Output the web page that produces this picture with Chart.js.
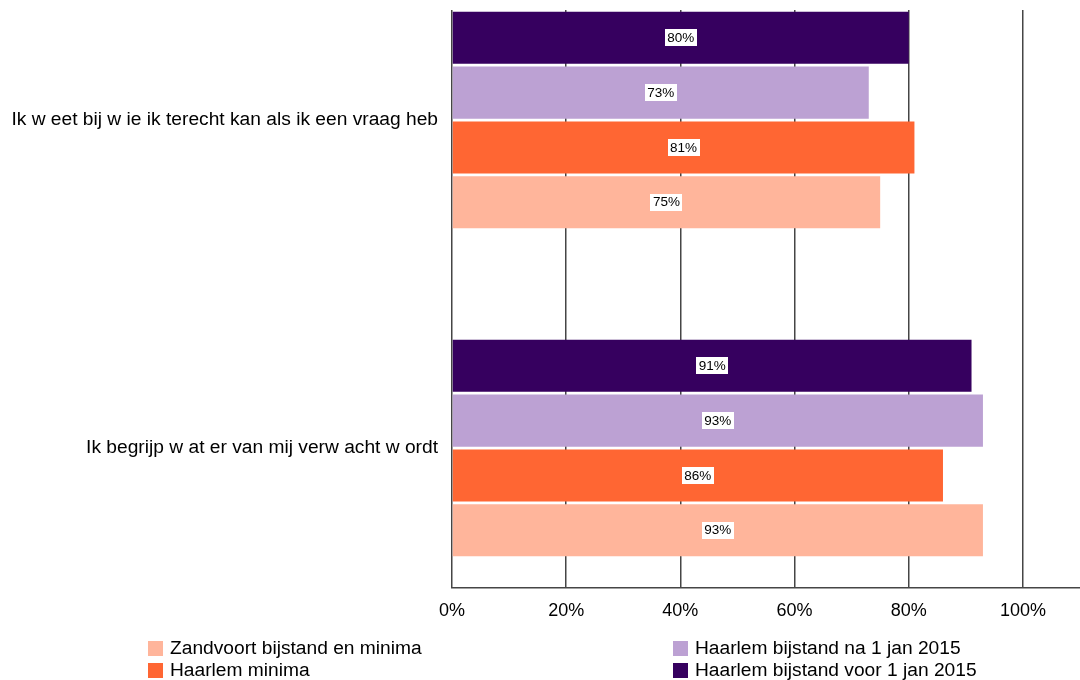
<!DOCTYPE html>
<html>
<head>
<meta charset="utf-8">
<script src="https://cdn.jsdelivr.net/npm/chart.js@4.4.0/dist/chart.umd.min.js"></script>
<style>
  html, body { margin: 0; padding: 0; background: #fff; }
  #wrap { width: 1080px; height: 680px; }
</style>
</head>
<body>
<div id="wrap"><canvas id="chart"></canvas></div>
<script>
const categories = [
  'Ik w eet bij w ie ik terecht kan als ik een vraag heb',
  'Ik begrijp w at er van mij verw acht w ordt'
];
const seriesNames = [
  'Haarlem bijstand voor 1 jan 2015',
  'Haarlem bijstand na 1 jan 2015',
  'Haarlem minima',
  'Zandvoort bijstand en minima'
];
const haarlemVoor = [80, 91];
const haarlemNa = [73, 93];
const haarlemMinima = [81, 86];
const zandvoort = [75, 93];
const xTicks = [0, 20, 40, 60, 80, 100];

const seriesValues = [haarlemVoor, haarlemNa, haarlemMinima, zandvoort];
const colors = ['#36005f', '#bca1d3', '#ff6633', '#ffb59b'];
const FONT = '"Liberation Sans", Arial, sans-serif';
const GRID = '#454545';

// white boxes with the percentage in the middle of each bar
const valueLabels = {
  id: 'valueLabels',
  afterDatasetsDraw(chart) {
    const ctx = chart.ctx;
    ctx.save();
    ctx.font = '13.5px ' + FONT;
    ctx.textAlign = 'center';
    ctx.textBaseline = 'middle';
    chart.data.datasets.forEach((ds, i) => {
      chart.getDatasetMeta(i).data.forEach((bar, j) => {
        const txt = ds.data[j].x + '%';
        const cx = (bar.x + bar.base) / 2;
        const w = ctx.measureText(txt).width + 5;
        ctx.fillStyle = '#fff';
        ctx.fillRect(Math.round(cx - w / 2), Math.round(bar.y - 8.5), Math.round(w), 17);
        ctx.fillStyle = '#000';
        ctx.fillText(txt, cx, bar.y + 0.5);
      });
    });
    ctx.restore();
  }
};

// legend in two columns, reversed order like the original
const columnLegend = {
  id: 'columnLegend',
  afterDraw(chart) {
    const ctx = chart.ctx;
    const items = chart.data.datasets.slice().reverse();
    const colX = [148, 673];
    const rowY = [641, 663];
    ctx.save();
    ctx.font = '19.2px ' + FONT;
    ctx.textBaseline = 'middle';
    ctx.textAlign = 'left';
    items.forEach((ds, k) => {
      const x = colX[Math.floor(k / 2)];
      const y = rowY[k % 2];
      ctx.fillStyle = ds.backgroundColor;
      ctx.fillRect(x, y, 15, 15);
      ctx.fillStyle = '#000';
      ctx.fillText(ds.label, x + 22, y + 8);
    });
    ctx.restore();
  }
};

new Chart(document.getElementById('chart'), {
  type: 'bar',
  data: {
    datasets: seriesNames.map((name, i) => ({
      label: name,
      data: seriesValues[i].map((v, j) => ({ x: v, y: j })),
      backgroundColor: colors[i],
      borderWidth: 0,
      categoryPercentage: 0.668,
      barPercentage: 0.95
    }))
  },
  options: {
    indexAxis: 'y',
    responsive: true,
    maintainAspectRatio: false,
    animation: false,
    layout: { padding: { top: 10, left: 0, right: 0, bottom: 0 } },
    plugins: {
      legend: { display: false },
      tooltip: { enabled: false }
    },
    scales: {
      x: {
        type: 'linear',
        min: 0,
        max: 110,
        afterBuildTicks: (s) => { s.ticks = xTicks.map(v => ({ value: v })); },
        afterFit: (s) => { s.height = 92; },
        ticks: {
          callback: (v) => v + '%',
          color: '#000',
          font: { family: FONT, size: 18 },
          padding: 12,
          maxRotation: 0
        },
        grid: { color: GRID, lineWidth: 1.5, drawTicks: false },
        border: { color: GRID, width: 1.5 }
      },
      y: {
        type: 'linear',
        reverse: true,
        offset: false,
        min: -0.3354,
        max: 1.4268,
        afterBuildTicks: (s) => { s.ticks = categories.map((c, i) => ({ value: i })); },
        afterFit: (s) => { s.width = 452; s.paddingTop = 0; s.paddingBottom = 0; },
        ticks: {
          callback: (v) => categories[v],
          color: '#000',
          font: { family: FONT, size: 19.2 },
          padding: 14
        },
        grid: { display: false, drawTicks: false },
        border: { display: false }
      }
    }
  },
  plugins: [valueLabels, columnLegend]
});
</script>
</body>
</html>
